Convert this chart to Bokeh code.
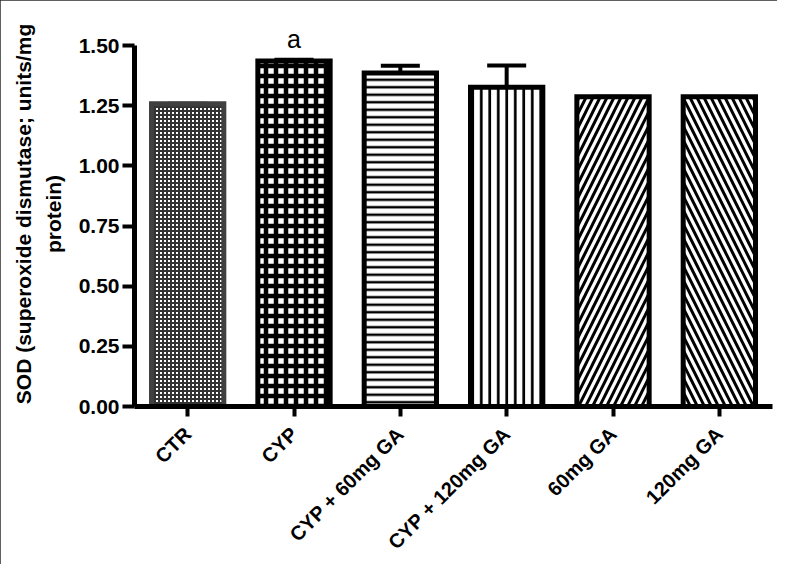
import math
from bokeh.plotting import figure
from bokeh.models import (ColumnDataSource, Range1d, FactorRange, Whisker, TeeHead,
                          FixedTicker, NumeralTickFormatter)
from bokeh.core.properties import value
from bokeh.embed import file_html
from bokeh.resources import INLINE

# ---- data ----
groups = ["CTR", "CYP", "CYP + 60mg GA", "CYP + 120mg GA", "60mg GA", "120mg GA"]
sod_mean = [1.258, 1.436, 1.386, 1.327, 1.287, 1.287]
sod_sem = [0.0, 0.005, 0.03, 0.09, 0.0, 0.0]
sig_letters = ["", "a", "", "", "", ""]
y_ticks = [0.0, 0.25, 0.5, 0.75, 1.0, 1.25, 1.5]

# ---- styles (one per bar) ----
patterns = ["cross", "cross", "horizontal_line", "vertical_line",
            "right_diagonal_line", "left_diagonal_line"]
hatch_scales = [4, 10, 7.5, 8.5, 14, 14]
hatch_weights = [2, 4.5, 2.5, 2.7, 3, 3]
hatch_colors = ["#333333", "black", "black", "black", "black", "black"]
outline_colors = ["#404040", "black", "black", "black", "black", "black"]

FONT = "Liberation Sans"

src = ColumnDataSource(dict(
    g=groups, m=sod_mean,
    lo=sod_mean,
    hi=[a + b for a, b in zip(sod_mean, sod_sem)],
    pat=patterns, hs=hatch_scales, hw=hatch_weights, hc=hatch_colors, lc=outline_colors,
))

p = figure(
    x_range=FactorRange(factors=groups, range_padding=0),
    y_range=Range1d(0, 1.6),
    width=777, height=564,
    min_border_left=134, min_border_right=5, min_border_top=21, min_border_bottom=157,
    output_backend="svg", toolbar_location=None,
    background_fill_color="white", border_fill_color="white",
)
p.outline_line_color = None
p.grid.visible = False
p.styles = {"outline": "2px solid #2b2b2b", "outline-offset": "-2px"}

wh = Whisker(source=src, base="g", upper="hi", lower="lo", dimension="height",
             line_color="black", line_width=4, level="underlay",
             upper_head=TeeHead(size=39, line_width=4, line_color="black"),
             lower_head=None)
p.add_layout(wh)

p.vbar(x="g", top="m", bottom=0, width=0.68, source=src,
       fill_color="white", line_color="lc", line_width=5, line_join="miter",
       hatch_pattern="pat", hatch_scale="hs", hatch_weight="hw", hatch_color="hc")

p.text(x=[groups[i] for i in range(len(groups)) if sig_letters[i]],
       y=[sod_mean[i] + sod_sem[i] for i in range(len(groups)) if sig_letters[i]],
       text=[s for s in sig_letters if s],
       y_offset=-7, text_align="center", text_baseline="bottom",
       text_font=value(FONT), text_font_size="25px", text_color="black")

# axes
yax = p.yaxis[0]
yax.ticker = FixedTicker(ticks=y_ticks)
yax.formatter = NumeralTickFormatter(format="0.00")
yax.bounds = (0, 1.5)
yax.axis_label = "SOD (superoxide dismutase; units/mg\nprotein)"
yax.axis_label_text_font = FONT
yax.axis_label_text_font_style = "bold"
yax.axis_label_text_font_size = "21px"
yax.axis_label_text_line_height = 1.3
yax.axis_label_standoff = 11
yax.major_label_text_font = FONT
yax.major_label_text_font_style = "bold"
yax.major_label_text_font_size = "21px"
yax.major_label_standoff = 3

xax = p.xaxis[0]
xax.major_label_orientation = math.pi / 4
xax.major_label_text_font = FONT
xax.major_label_text_font_style = "bold"
xax.major_label_text_font_size = "20px"
xax.major_label_standoff = 14

for ax in (xax, yax):
    ax.axis_line_width = 5
    ax.axis_line_color = "black"
    ax.major_tick_line_width = 4
    ax.major_tick_line_color = "black"
    ax.major_tick_in = 0
    ax.minor_tick_line_color = None
    ax.major_label_text_color = "black"
    ax.axis_label_text_color = "black"
yax.major_tick_out = 12
xax.major_tick_out = 10

open("out.html", "w").write(file_html(p, INLINE))
